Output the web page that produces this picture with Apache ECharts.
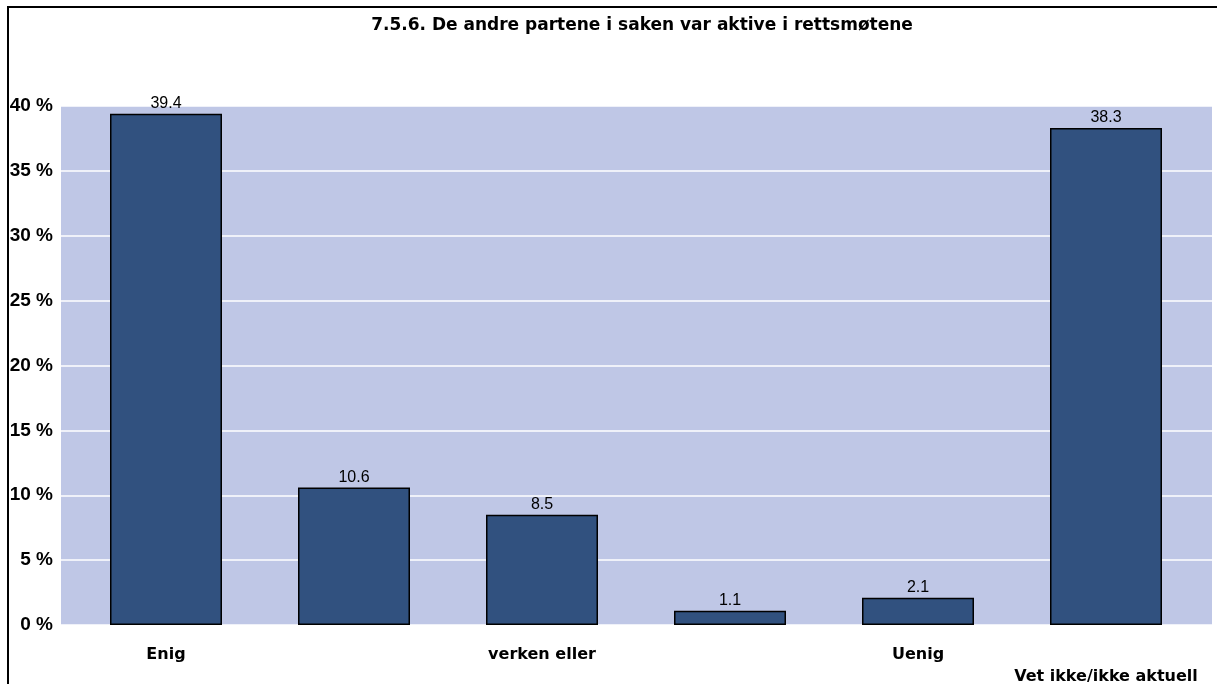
<!DOCTYPE html>
<html>
<head>
<meta charset="utf-8">
<script src="https://cdn.jsdelivr.net/npm/echarts@6/dist/echarts.min.js"></script>
<style>
html,body{margin:0;padding:0;background:#fff;}
#c{width:1217px;height:684px;}
</style>
</head>
<body>
<div id="c"></div>
<script>
const titleText = '7.5.6. De andre partene i saken var aktive i rettsmøtene';
const categories = ['Enig', '', 'verken eller', '', 'Uenig', 'Vet ikke/ikke aktuell'];
const values = [39.4, 10.6, 8.5, 1.1, 2.1, 38.3];
const yMin = 0, yMax = 40, yStep = 5;

const chart = echarts.init(document.getElementById('c'), null, {renderer: 'canvas'});
const fontFamily = '"Liberation Sans", Arial, sans-serif';
const wideFont = '"DejaVu Sans", "Liberation Sans", sans-serif';
chart.setOption({
  animation: false,
  backgroundColor: '#ffffff',
  title: {
    text: titleText,
    left: 637, top: 12, textAlign: 'center',
    textStyle: {fontFamily: wideFont, fontSize: 17, fontWeight: 'bold', color: '#000'}
  },
  graphic: [
    {type: 'line', shape: {x1: 8, y1: 6, x2: 8, y2: 684}, style: {stroke: '#000', lineWidth: 2}, z: 100},
    {type: 'line', shape: {x1: 7, y1: 7, x2: 1217, y2: 7}, style: {stroke: '#000', lineWidth: 2}, z: 100}
  ],
  grid: [
    {left: 61, right: 5, top: 106, bottom: 59, show: true, backgroundColor: '#BFC7E6', borderWidth: 0,
      containLabel: false, outerBoundsMode: 'none'},
    {left: 72, right: 17, top: 106, bottom: 59, containLabel: false, outerBoundsMode: 'none'}
  ],
  xAxis: [
    {gridIndex: 0, type: 'value', show: false, min: 0, max: 1},
    {gridIndex: 1, type: 'category', data: categories,
      axisLine: {show: false}, axisTick: {show: false},
      axisLabel: {
        interval: 0, margin: 19, color: '#000', fontFamily: wideFont, fontSize: 16, fontWeight: 'bold', lineHeight: 22,
        formatter: (v, i) => i === categories.length - 1 ? '\n' + v : v
      }
    }
  ],
  yAxis: [
    {gridIndex: 0, type: 'value', min: yMin, max: yMax, interval: yStep,
      axisLine: {show: false}, axisTick: {show: false},
      axisLabel: {formatter: '{value} %', color: '#000', fontFamily, fontSize: 19, fontWeight: 'bold', margin: 8},
      splitLine: {show: true, lineStyle: {color: '#ffffff', width: 1.5}}
    },
    {gridIndex: 1, type: 'value', min: yMin, max: yMax, interval: yStep, show: false, splitLine: {show: false}}
  ],
  series: [{
    type: 'bar', xAxisIndex: 1, yAxisIndex: 1,
    data: values,
    barWidth: 112,
    itemStyle: {color: '#31517F', borderColor: '#000', borderWidth: 1.5},
    label: {show: true, position: 'top', distance: 2, color: '#000', fontFamily, fontSize: 16,
      formatter: p => p.value.toFixed(1)}
  }]
});
</script>
</body>
</html>
